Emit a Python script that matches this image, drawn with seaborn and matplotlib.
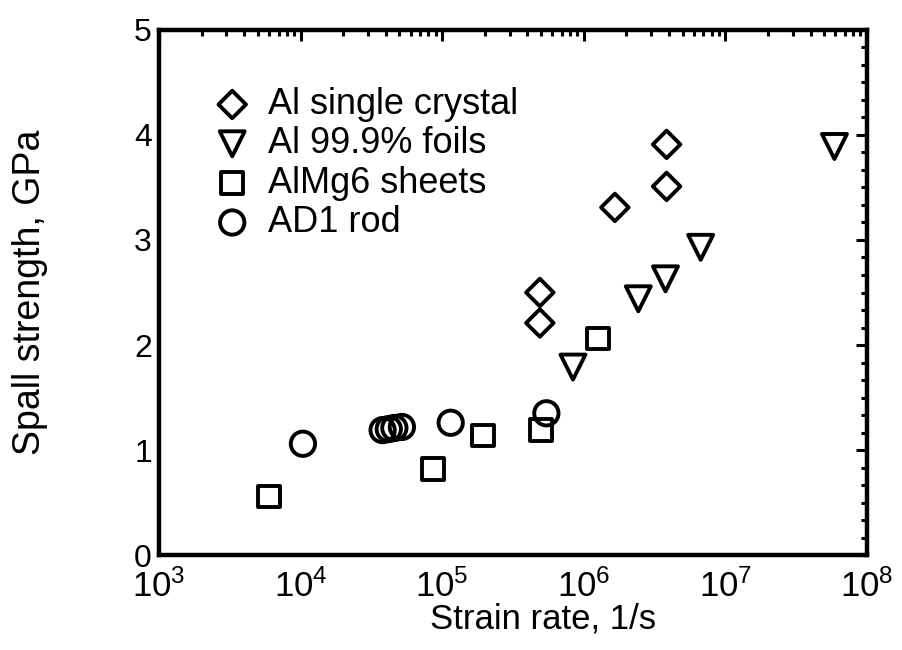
import numpy as np
import pandas as pd
import seaborn as sns
import matplotlib
matplotlib.use("Agg")
import matplotlib.pyplot as plt
from matplotlib.ticker import LogLocator, AutoMinorLocator, FixedLocator, NullFormatter

# ---- data ----
single_x = [4.9e5, 4.9e5, 1.66e6, 3.85e6, 3.85e6]
single_y = [2.50, 2.21, 3.31, 3.51, 3.91]

foil_x = [8.4e5, 2.43e6, 3.78e6, 6.7e6, 5.9e7]
foil_y = [1.79, 2.44, 2.63, 2.93, 3.89]

almg_x = [6.0e3, 8.6e4, 1.95e5, 5.0e5, 1.26e6]
almg_y = [0.56, 0.82, 1.14, 1.19, 2.06]

ad1_x = [1.04e4, 3.8e4, 4.2e4, 4.6e4, 5.2e4, 1.15e5, 5.45e5]
ad1_y = [1.06, 1.19, 1.20, 1.21, 1.22, 1.26, 1.35]

labels = ["Al single crystal", "Al 99.9% foils", "AlMg6 sheets", "AD1 rod"]
x_ticks = [1e3, 1e4, 1e5, 1e6, 1e7, 1e8]
y_ticks = [0, 1, 2, 3, 4, 5]

sns.set_theme(style="white")
plt.rcParams['font.family'] = ['Liberation Sans', 'DejaVu Sans']
plt.rcParams['mathtext.fontset'] = 'custom'
plt.rcParams['mathtext.rm'] = 'Liberation Sans'
plt.rcParams['mathtext.it'] = 'Liberation Sans'
for k in ['text.color', 'axes.labelcolor', 'xtick.color', 'ytick.color', 'axes.edgecolor']:
    plt.rcParams[k] = 'black'

fig = plt.figure(figsize=(9.03, 6.5), dpi=100)
ax = fig.add_axes([0.176, 0.146, 0.784, 0.808])

series = [
    (single_x, single_y, "D", 14.0, labels[0]),
    (foil_x, foil_y, "v", 18.0, labels[1]),
    (almg_x, almg_y, "s", 15.5, labels[2]),
    (ad1_x, ad1_y, "o", 17.5, labels[3]),
]
for xs, ys, mk, ms, lab in series:
    df = pd.DataFrame({"x": xs, "y": ys})
    sns.scatterplot(data=df, x="x", y="y", marker=mk, s=ms ** 2,
                    color="black", facecolor="none", edgecolor="black",
                    linewidth=2.8, ax=ax, label=lab, zorder=3)

ax.set_xscale("log")
ax.set_xlim(1e3, 1e8)
ax.set_ylim(0, 5)
ax.xaxis.set_major_locator(FixedLocator(x_ticks))
ax.set_xticklabels([r"$10^{%d}$" % int(np.log10(v)) for v in x_ticks])
ax.xaxis.set_minor_locator(LogLocator(base=10, subs=np.arange(2, 10)))
ax.xaxis.set_minor_formatter(NullFormatter())
ax.set_yticks(y_ticks)
ax.yaxis.set_minor_locator(AutoMinorLocator(6))

for sp in ax.spines.values():
    sp.set_linewidth(3.2)
    sp.set_color("black")

ax.tick_params(which="both", direction="in", top=True, right=True,
               color="black", width=2.2)
ax.tick_params(which="major", length=8)
ax.tick_params(which="minor", length=4)
ax.tick_params(axis="y", which="major", labelsize=23, pad=5)
ax.tick_params(axis="x", which="major", labelsize=25, pad=10)

ax.set_xlabel("Strain rate, 1/s", fontsize=25)
ax.set_ylabel("Spall strength, GPa", fontsize=27)
ax.xaxis.set_label_coords(0.542, -0.09)
ax.yaxis.set_label_coords(-0.157, 0.5)

ax.legend(loc="upper left", frameon=False, fontsize=26,
          handletextpad=0.54, labelspacing=0.12, borderaxespad=1.08,
          borderpad=0.5, handlelength=0.9)

fig.savefig("out.png", dpi=100)
